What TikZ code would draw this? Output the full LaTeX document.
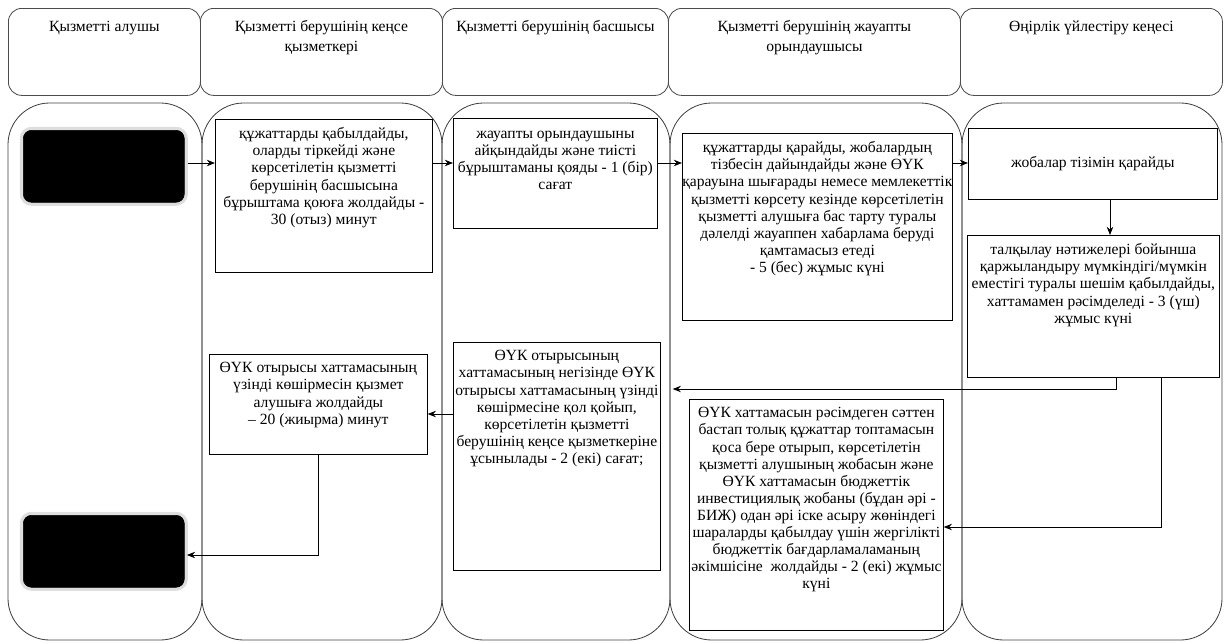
\documentclass[tikz,border=0pt]{standalone}
\usepackage{fontspec}
\setmainfont{Liberation Serif}
\usetikzlibrary{arrows.meta}
\newlength{\px}
\setlength{\px}{0.03cm}
% text block of given width and height (in px), centred, top aligned
\newcommand{\bx}[3]{\parbox[t][#2\px][t]{#1\px}{\centering #3}}
\tikzset{
    %Define standard arrow tip
    >={Stealth[length=7pt,width=5.5pt]},
    %Define style for lanes
    lane/.style={
           draw=black!75, line width=0.7pt,
           rounded corners=1.25cm},
    header/.style={
           rectangle,
           rounded corners=0.4cm,
           draw=black!70, line width=0.7pt,
           inner sep=0pt,
           anchor=north west},
    stepbox/.style={
           rectangle,
           draw=black, line width=0.6pt,
           inner sep=0pt,
           fill=white,
           anchor=north west},
    endpoint/.style={
           rectangle,
           rounded corners=0.25cm,
           fill=black, draw=black, line width=0.5pt,
           preaction={draw=black!13, line width=6pt},
           minimum width=4.83cm,
           minimum height=2.16cm,
           anchor=north west},
    % Define arrow style
    pil/.style={
           ->,
           line width=0.7pt}
}
\begin{document}
\begin{tikzpicture}[x=0.03cm,y=-0.03cm,
  every node/.style={font=\fontsize{13.3}{14.6}\selectfont}]
\useasboundingbox (0,0) rectangle (1225,644);
% lanes
\draw[lane] (8,103) rectangle (202,640);
\draw[lane] (202,103) rectangle (442,640);
\draw[lane] (442,103) rectangle (670,640);
\draw[lane] (670,103) rectangle (962,640);
\draw[lane] (962,103) rectangle (1222,640);
% headers
\node[header] (h1) at (8,8) {\bx{192}{87}{\vspace*{10.5pt}Қызметті алушы}};
\node[header] (h2) at (200,8) {\bx{242}{87}{\vspace*{10.5pt}Қызметті берушінің кеңсе\\[2pt] қызметкері}};
\node[header] (h3) at (442,8) {\bx{226}{87}{\vspace*{10.5pt}Қызметті берушінің басшысы}};
\node[header] (h4) at (668,8) {\bx{292}{87}{\vspace*{10.5pt}Қызметті берушінің жауапты\\[2pt] орындаушысы}};
\node[header] (h5) at (960,8) {\bx{262}{87}{\vspace*{10.5pt}Өңірлік үйлестіру кеңесі}};
% steps
\node[endpoint] (s1) at (23,130) {};
\node[stepbox] (n1) at (215,119) {\bx{217}{153}{\vspace*{7pt}құжаттарды қабылдайды,\\ оларды тіркейді және\\ көрсетілетін қызметті\\ берушінің басшысына\\ бұрыштама қоюға жолдайды -\\ 30 (отыз) минут}};
\node[stepbox] (n2) at (453,118) {\bx{204}{110}{\vspace*{11pt}жауапты орындаушыны\\ айқындайды және тиісті\\ бұрыштаманы қояды - 1 (бір)\\ сағат}};
\node[stepbox] (n3) at (682,133) {\bx{270}{187}{\vspace*{7pt}құжаттарды қарайды, жобалардың\\ тізбесін дайындайды және ӨҮК\\ қарауына шығарады немесе мемлекеттік\\ қызметті көрсету кезінде көрсетілетін\\ қызметті алушыға бас тарту туралы\\ дәлелді жауаппен хабарлама беруді\\ қамтамасыз етеді\\ - 5 (бес) жұмыс күні}};
\node[stepbox] (n4) at (968,128) {\bx{249}{71}{\vspace*{24pt}жобалар тізімін қарайды}};
\node[stepbox] (n5) at (967,235) {\bx{252}{142}{\vspace*{7pt}талқылау нәтижелері бойынша\\ қаржыландыру мүмкіндігі/мүмкін\\ еместігі туралы шешім қабылдайды,\\ хаттамамен рәсімделеді - 3 (үш)\\ жұмыс күні}};
\node[stepbox] (n6) at (209,354) {\bx{218}{100}{\vspace*{7pt}ӨҮК отырысы хаттамасының\\ үзінді көшірмесін қызмет\\ алушыға жолдайды\\ -- 20 (жиырма) минут}};
\node[stepbox] (n7) at (453,342) {\bx{207}{228}{\vspace*{7pt}ӨҮК отырысының\\ хаттамасының негізінде ӨҮК\\ отырысы хаттамасының үзінді\\ көшірмесіне қол қойып,\\ көрсетілетін қызметті\\ берушінің кеңсе қызметкеріне\\ ұсынылады - 2 (екі) сағат;}};
\node[stepbox] (n8) at (689,399) {\bx{254}{231}{\vspace*{7pt}ӨҮК хаттамасын рәсімдеген сәттен\\ бастап толық құжаттар топтамасын\\ қоса бере отырып, көрсетілетін\\ қызметті алушының жобасын және\\ ӨҮК хаттамасын бюджеттік\\ инвестициялық жобаны (бұдан әрі -\\ БИЖ) одан әрі іске асыру жөніндегі\\ шараларды қабылдау үшін жергілікті\\ бюджеттік бағдарламаламаның\\ әкімшісіне\ \ жолдайды - 2 (екі) жұмыс\\ күні}};
\node[endpoint] (s2) at (23,515) {};
% arrows
\coordinate (r1) at (0,163);
\coordinate (c5) at (1110,0);
\coordinate (c6) at (1116,389);
\coordinate (c7) at (1161,527);
\coordinate (c8) at (0,414);
\coordinate (c9) at (0,555);
\draw[pil, shorten <=3pt] (s1.east |- r1) -- (n1.west |- r1);
\draw[pil] (n1.east |- r1) -- (n2.west |- r1);
\draw[pil] (n2.east |- r1) -- (n3.west |- r1);
\draw[pil] (n3.east |- r1) -- (n4.west |- r1);
\draw[pil] (n4.south -| c5) -- (n5.north -| c5);
\draw[pil, shorten >=0.36cm] (n5.south -| c6) |- (n7.east |- c6);
\draw[pil] (n5.south -| c7) |- (n8.east |- c7);
\draw[pil] (n7.west |- c8) -- (n6.east |- c8);
\draw[pil, shorten >=2pt] (n6.south) |- (s2.east |- c9);
\end{tikzpicture}
\end{document}
